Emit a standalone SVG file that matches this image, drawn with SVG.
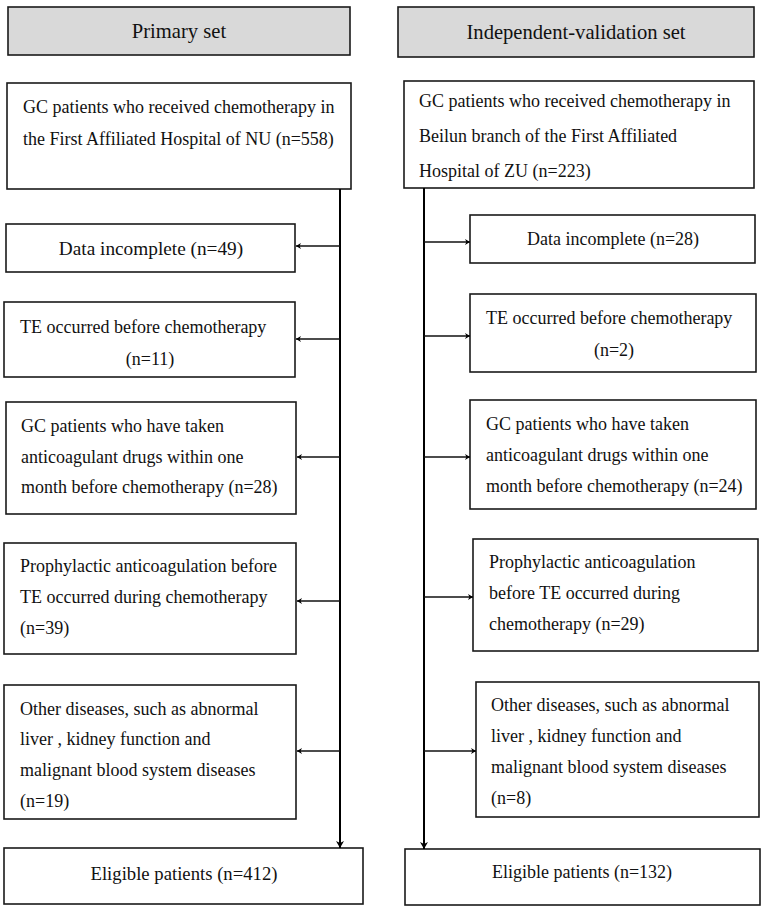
<svg xmlns="http://www.w3.org/2000/svg" width="765" height="911" viewBox="0 0 765 911">
<defs>
<style>
.box{fill:#fff;stroke:#1a1a1a;stroke-width:1.6}
.hdr{fill:#d9d9d9;stroke:#1a1a1a;stroke-width:1.6}
text{font-family:"Liberation Serif","Times New Roman",serif;font-size:18px;fill:#111}
.h{font-size:20.6px}
.c{text-anchor:middle}
.ln{fill:none;stroke:#000;stroke-width:2}
.br{fill:none;stroke:#111;stroke-width:1.4}
</style>
<marker id="ah" markerUnits="userSpaceOnUse" markerWidth="8" markerHeight="8" refX="5" refY="3" orient="auto">
<path d="M0,0 L5,3 L0,6 L1.5,3 Z" fill="#000"/>
</marker>
<marker id="ahd" markerUnits="userSpaceOnUse" markerWidth="10" markerHeight="10" refX="7" refY="4" orient="auto">
<path d="M0,0 L7,4 L0,8 L2,4 Z" fill="#000"/>
</marker>
</defs>
<rect width="765" height="911" fill="#fff"/>

<g id="hdr-primary"><rect class="hdr" x="8" y="7" width="342" height="48"/><text class="h c" x="179" y="38">Primary set</text></g>
<g id="hdr-validation"><rect class="hdr" x="398" y="7" width="356" height="50"/><text class="h c" x="576" y="39">Independent-validation set</text></g>

<g id="L0"><rect class="box" x="7" y="83" width="344" height="106"/><text x="23" y="113"><tspan x="23">GC patients who received chemotherapy in</tspan><tspan x="23" y="145">the First Affiliated Hospital of NU (n=558)</tspan></text></g>
<g id="L1"><rect class="box" x="6" y="224" width="289" height="48"/><text class="c" x="151" y="255" style="font-size:19.3px">Data incomplete (n=49)</text></g>
<g id="L2"><rect class="box" x="4" y="302" width="291" height="75"/><text x="20" y="333">TE occurred before chemotherapy</text><text class="c" x="150" y="365">(n=11)</text></g>
<g id="L3"><rect class="box" x="6" y="402" width="290" height="112"/><text x="21" y="432"><tspan x="21">GC patients who have taken</tspan><tspan x="21" y="463">anticoagulant drugs within one</tspan><tspan x="21" y="493">month before chemotherapy (n=28)</tspan></text></g>
<g id="L4"><rect class="box" x="4" y="543" width="292" height="111"/><text x="20" y="572"><tspan x="20">Prophylactic anticoagulation before</tspan><tspan x="20" y="603">TE occurred during chemotherapy</tspan><tspan x="20" y="634">(n=39)</tspan></text></g>
<g id="L5"><rect class="box" x="4" y="685" width="292" height="134"/><text x="20" y="715"><tspan x="20">Other diseases, such as abnormal</tspan><tspan x="20" y="745">liver , kidney function and</tspan><tspan x="20" y="776">malignant blood system diseases</tspan><tspan x="20" y="807">(n=19)</tspan></text></g>
<g id="L6"><rect class="box" x="4" y="848" width="359" height="56"/><text class="c" x="184" y="880" style="font-size:18.7px">Eligible patients (n=412)</text></g>

<g id="R0"><rect class="box" x="404" y="81" width="350" height="107"/><text x="419" y="107"><tspan x="419">GC patients who received chemotherapy in</tspan><tspan x="419" y="142">Beilun branch of the First Affiliated</tspan><tspan x="419" y="177">Hospital of ZU (n=223)</tspan></text></g>
<g id="R1"><rect class="box" x="470" y="215" width="285" height="48"/><text class="c" x="613" y="245">Data incomplete (n=28)</text></g>
<g id="R2"><rect class="box" x="470" y="294" width="286" height="78"/><text x="486" y="324">TE occurred before chemotherapy</text><text class="c" x="614" y="356">(n=2)</text></g>
<g id="R3"><rect class="box" x="470" y="400" width="286" height="109"/><text x="486" y="430"><tspan x="486">GC patients who have taken</tspan><tspan x="486" y="461">anticoagulant drugs within one</tspan><tspan x="486" y="492">month before chemotherapy (n=24)</tspan></text></g>
<g id="R4"><rect class="box" x="473" y="539" width="285" height="112"/><text x="489" y="568"><tspan x="489">Prophylactic anticoagulation</tspan><tspan x="489" y="599">before TE occurred during</tspan><tspan x="489" y="630">chemotherapy (n=29)</tspan></text></g>
<g id="R5"><rect class="box" x="476" y="682" width="283" height="135"/><text x="491" y="711"><tspan x="491">Other diseases, such as abnormal</tspan><tspan x="491" y="742">liver , kidney function and</tspan><tspan x="491" y="773">malignant blood system diseases</tspan><tspan x="491" y="804">(n=8)</tspan></text></g>
<g id="R6"><rect class="box" x="405" y="849" width="355" height="56"/><text class="c" x="582" y="878">Eligible patients (n=132)</text></g>

<g id="connectors">
<line class="ln" x1="340" y1="189" x2="340" y2="848" marker-end="url(#ahd)"/>
<line class="br" x1="340" y1="246" x2="296" y2="246" marker-end="url(#ah)"/>
<line class="br" x1="340" y1="339" x2="296" y2="339" marker-end="url(#ah)"/>
<line class="br" x1="340" y1="457" x2="297" y2="457" marker-end="url(#ah)"/>
<line class="br" x1="340" y1="601" x2="297" y2="601" marker-end="url(#ah)"/>
<line class="br" x1="340" y1="751" x2="297" y2="751" marker-end="url(#ah)"/>
<line class="ln" x1="424" y1="188" x2="424" y2="849" marker-end="url(#ahd)"/>
<line class="br" x1="424" y1="242" x2="470" y2="242" marker-end="url(#ah)"/>
<line class="br" x1="424" y1="336" x2="470" y2="336" marker-end="url(#ah)"/>
<line class="br" x1="424" y1="457" x2="470" y2="457" marker-end="url(#ah)"/>
<line class="br" x1="424" y1="597" x2="473" y2="597" marker-end="url(#ah)"/>
<line class="br" x1="424" y1="751" x2="476" y2="751" marker-end="url(#ah)"/>
</g>
</svg>
